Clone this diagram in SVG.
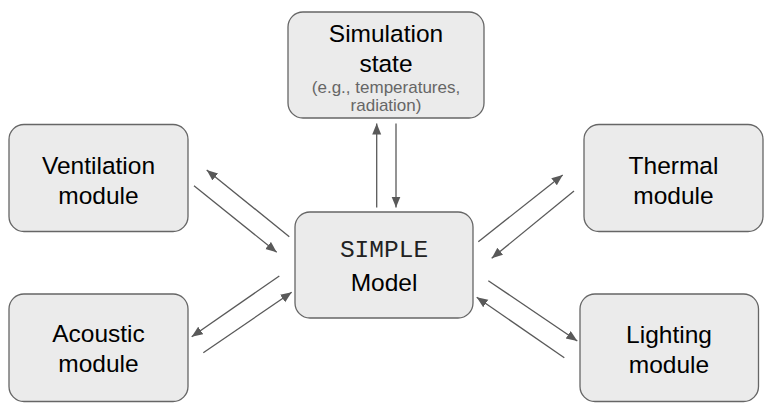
<svg xmlns="http://www.w3.org/2000/svg" width="769" height="413" viewBox="0 0 769 413">
<style>
.box{fill:#ebebeb;stroke:#666666;stroke-width:1.3}
.t{font-family:"Liberation Sans",Arial,sans-serif;font-size:24.5px;fill:#000;text-anchor:middle}
.s{font-family:"Liberation Sans",Arial,sans-serif;font-size:17px;fill:#666666;text-anchor:middle}
.m{font-family:"Liberation Mono","Courier New",monospace;font-size:24.5px;fill:#222;text-anchor:middle}
.c{stroke:#595959;stroke-width:1.3;fill:none;marker-end:url(#ah)}
</style>
<defs>
<marker id="ah" markerUnits="userSpaceOnUse" markerWidth="12" markerHeight="10" refX="11" refY="4.5" orient="auto">
<path d="M0,0 L11,4.5 L0,9 z" fill="#595959"/>
</marker>
</defs>
<rect width="769" height="413" fill="#ffffff"/>
<g id="connectors">
<line class="c" x1="376.7" y1="207.5" x2="376.7" y2="123.5"/>
<line class="c" x1="396" y1="123.5" x2="396" y2="207.5"/>
<line class="c" x1="289.3" y1="236.7" x2="206.7" y2="170"/>
<line class="c" x1="194" y1="185.7" x2="276.7" y2="252.3"/>
<line class="c" x1="279.3" y1="276" x2="191.7" y2="336.7"/>
<line class="c" x1="203.3" y1="352.7" x2="291.7" y2="292.3"/>
<line class="c" x1="478.3" y1="241.7" x2="562.7" y2="175"/>
<line class="c" x1="574" y1="191" x2="491.7" y2="258.3"/>
<line class="c" x1="488.3" y1="280.7" x2="577.3" y2="341"/>
<line class="c" x1="564.3" y1="357.7" x2="476.7" y2="297.3"/>
</g>
<g id="simulation-state">
<rect class="box" x="288" y="12" width="196" height="106" rx="15"/>
<text class="t" x="386" y="41.5">Simulation</text>
<text class="t" x="386" y="71.5">state</text>
<text class="s" x="386" y="93">(e.g., temperatures,</text>
<text class="s" x="386" y="111">radiation)</text>
</g>
<g id="simple-model">
<rect class="box" x="295" y="212" width="178" height="106" rx="15"/>
<text class="m" x="384" y="257">SIMPLE</text>
<text class="t" x="384" y="291">Model</text>
</g>
<g id="ventilation-module">
<rect class="box" x="9" y="124.5" width="179" height="107" rx="15"/>
<text class="t" x="98.5" y="173.5">Ventilation</text>
<text class="t" x="98.5" y="203.5">module</text>
</g>
<g id="acoustic-module">
<rect class="box" x="9" y="294" width="179" height="107.5" rx="15"/>
<text class="t" x="98.5" y="342">Acoustic</text>
<text class="t" x="98.5" y="372">module</text>
</g>
<g id="thermal-module">
<rect class="box" x="584" y="124.5" width="179" height="107" rx="15"/>
<text class="t" x="673.5" y="174">Thermal</text>
<text class="t" x="673.5" y="204">module</text>
</g>
<g id="lighting-module">
<rect class="box" x="580" y="294" width="178.5" height="107.5" rx="15"/>
<text class="t" x="669" y="343">Lighting</text>
<text class="t" x="669" y="373">module</text>
</g>
</svg>
